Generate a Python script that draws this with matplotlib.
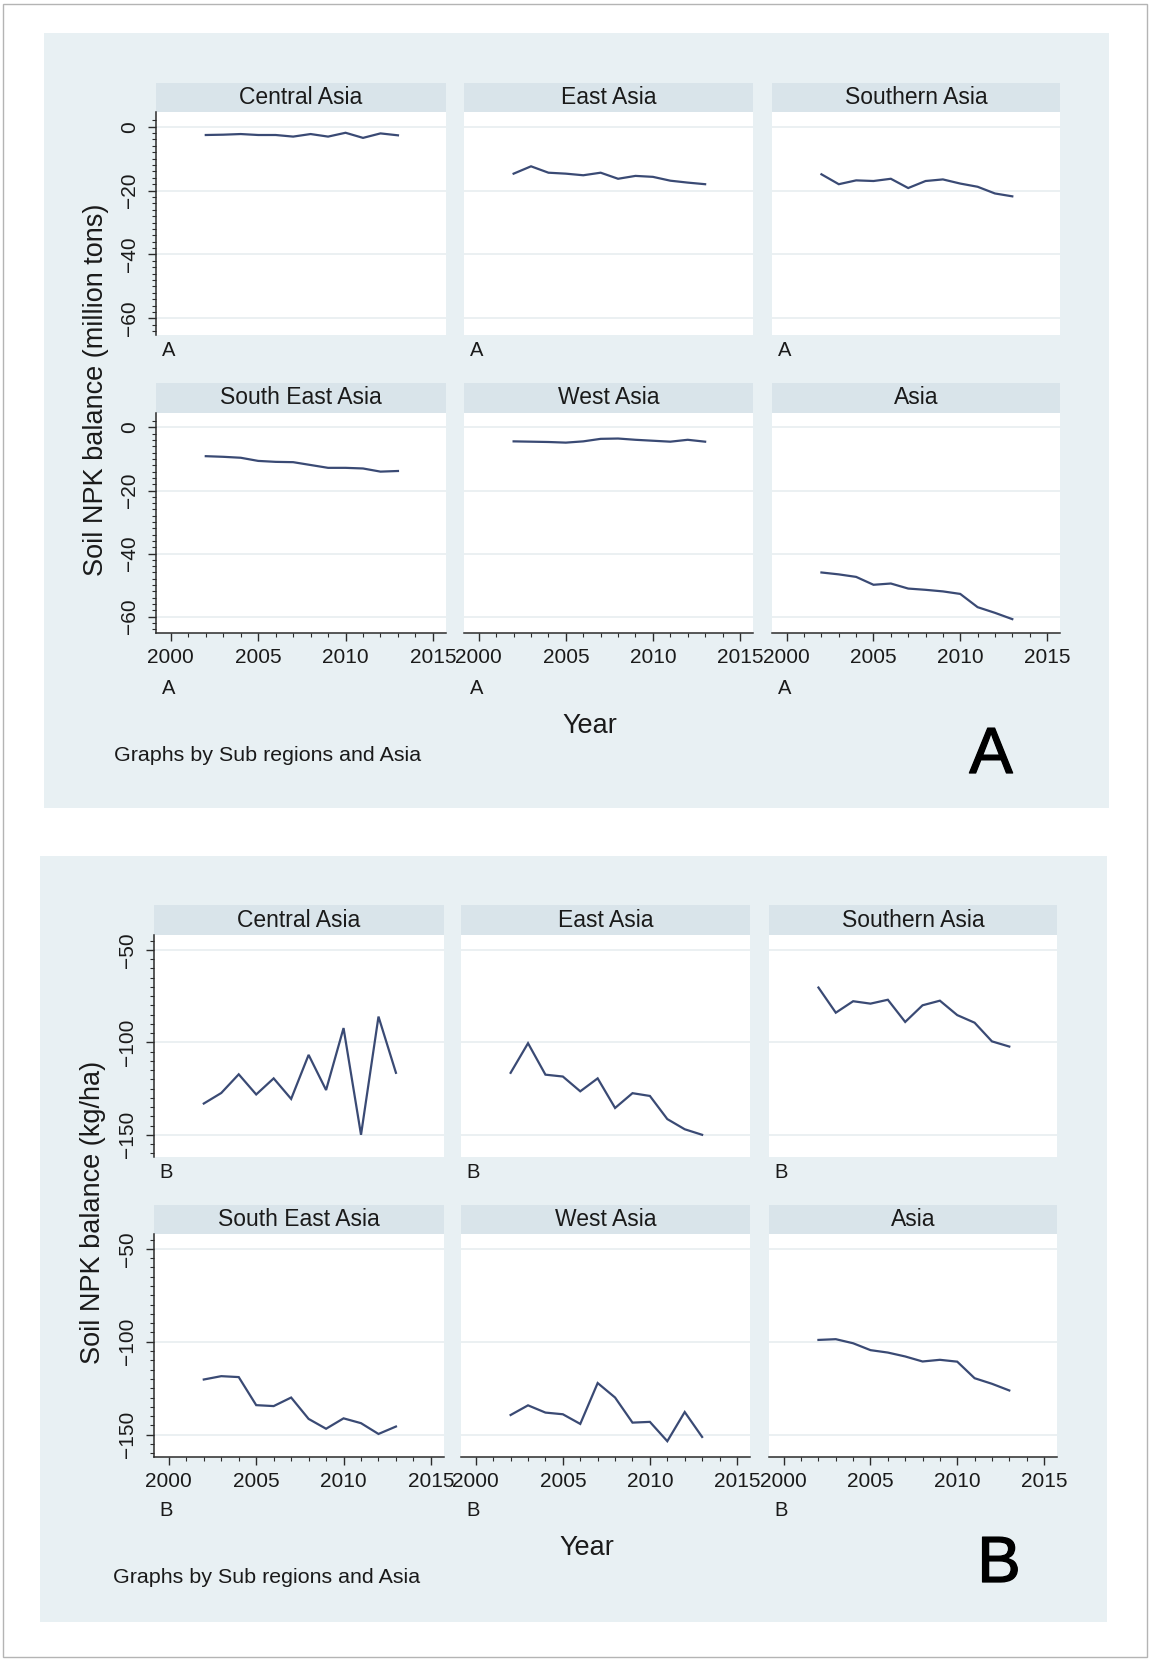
import matplotlib
matplotlib.use("Agg")
import matplotlib.pyplot as plt
import matplotlib.transforms as mtransforms
from matplotlib.patches import Rectangle
import matplotlib.patheffects as pe

# ---------------------------------------------------------------------------
# Data
# ---------------------------------------------------------------------------
years = [2002, 2003, 2004, 2005, 2006, 2007, 2008, 2009, 2010, 2011, 2012, 2013]

panel_titles = ["Central Asia", "East Asia", "Southern Asia",
                "South East Asia", "West Asia", "Asia"]

# Panel A: soil NPK balance, million tons
a_central_asia = [-2.6, -2.5, -2.3, -2.6, -2.6, -3.1, -2.3, -3.1, -1.9, -3.5, -2.1, -2.7]
a_east_asia = [-14.7, -12.4, -14.4, -14.7, -15.2, -14.4, -16.3, -15.4, -15.7, -16.9, -17.5, -18.0]
a_southern_asia = [-14.9, -18.0, -16.8, -17.0, -16.3, -19.2, -17.0, -16.5, -17.8, -18.8, -20.9, -21.8]
a_south_east_asia = [-9.1, -9.3, -9.6, -10.6, -10.9, -11.0, -11.9, -12.8, -12.8, -13.0, -14.0, -13.8]
a_west_asia = [-4.4, -4.5, -4.6, -4.8, -4.4, -3.6, -3.5, -3.9, -4.2, -4.5, -3.9, -4.5]
a_asia = [-46.0, -46.6, -47.4, -49.9, -49.5, -51.1, -51.5, -52.0, -52.8, -57.0, -58.8, -60.8]

# Panel B: soil NPK balance, kg/ha
b_central_asia = [-133.1, -127.4, -117.3, -128.2, -119.5, -130.6, -106.8, -125.8, -92.3, -150.0, -86.1, -116.5]
b_east_asia = [-116.5, -100.5, -117.5, -118.5, -126.5, -119.5, -135.5, -127.5, -129.0, -141.5, -147.0, -150.0]
b_southern_asia = [-70.4, -84.0, -77.8, -79.1, -77.0, -89.0, -80.0, -77.5, -85.3, -89.4, -99.5, -102.3]
b_south_east_asia = [-120.3, -118.5, -119.0, -134.1, -134.6, -130.0, -141.5, -146.8, -141.2, -143.8, -149.6, -145.6]
b_west_asia = [-139.4, -134.2, -138.1, -139.0, -144.2, -122.2, -130.0, -143.5, -143.1, -153.5, -137.8, -151.2]
b_asia = [-99.0, -98.6, -100.8, -104.5, -105.8, -107.9, -110.6, -109.7, -110.7, -119.6, -122.6, -126.2]

x_ticks = [2000, 2005, 2010, 2015]
x_minor = list(range(2000, 2016))
a_y_ticks = [0, -20, -40, -60]
a_y_minor = list(range(-64, 4, 2))
b_y_ticks = [-50, -100, -150]
b_y_minor = list(range(-160, -40, 5))

# ---------------------------------------------------------------------------
# Styling
# ---------------------------------------------------------------------------
W, H = 1151, 1660
FONT = ["Liberation Sans", "DejaVu Sans"]
plt.rcParams["font.family"] = FONT

BG = "#e8f0f3"
STRIP = "#d9e4ea"
GRID = "#e9eff1"
LINE = "#3a4a74"
AXIS = "#2b2b2b"
TEXT = "#1a1a1a"

fig = plt.figure(figsize=(W / 100, H / 100), dpi=100)
fig.patch.set_facecolor("white")

# thin outer frame
fig.patches.append(Rectangle((3 / W, 3 / H), (W - 7) / W, (H - 7) / H,
                             transform=fig.transFigure, fill=False,
                             edgecolor="#b4b4b4", lw=1.0, zorder=-20))


def px_axes(x0, y0, x1, y1):
    return fig.add_axes([x0 / W, 1 - y1 / H, (x1 - x0) / W, (y1 - y0) / H])


def fig_text(x, y, s, **kw):
    return fig.text(x / W, 1 - y / H, s, **kw)


def draw_block(series, letter, bg, cols, rows, ylim, yticks, yminor,
               caption_y, ylabel, ylabel_xy, year_xy, note_xy, big_xy):
    x0, y0, x1, y1 = bg
    fig.patches.append(Rectangle((x0 / W, 1 - y1 / H), (x1 - x0) / W, (y1 - y0) / H,
                                 transform=fig.transFigure, facecolor=BG,
                                 edgecolor="none", zorder=-10))
    xlim = (1999.15, 2015.75)
    for i, (vals, title) in enumerate(zip(series, panel_titles)):
        r, c = divmod(i, 3)
        cx0, cx1 = cols[c]
        htop, ptop, pbot = rows[r]

        # title strip
        hax = px_axes(cx0, htop, cx1, ptop)
        hax.set_facecolor(STRIP)
        hax.set_xticks([])
        hax.set_yticks([])
        for s in hax.spines.values():
            s.set_visible(False)
        hax.text(0.5, 0.5, title, ha="center", va="center", fontsize=16.5,
                 color=TEXT, transform=hax.transAxes)

        # plot region
        ax = px_axes(cx0, ptop, cx1, pbot)
        ax.set_facecolor("white")
        ax.plot(years, vals, color=LINE, lw=1.6, solid_joinstyle="miter")
        ax.set_xlim(*xlim)
        ax.set_ylim(*ylim)
        ax.set_yticks(yticks)
        ax.set_yticks(yminor, minor=True)
        ax.set_xticks(x_ticks)
        ax.set_xticks(x_minor, minor=True)
        ax.grid(axis="y", which="major", color=GRID, lw=1.3)
        ax.set_axisbelow(True)
        for side in ("top", "right"):
            ax.spines[side].set_visible(False)
        ax.spines["left"].set_visible(c == 0)
        ax.spines["bottom"].set_visible(r == 1)
        for side in ("left", "bottom"):
            ax.spines[side].set_color(AXIS)
            ax.spines[side].set_linewidth(1.1)

        ax.tick_params(axis="y", which="major", length=6, width=1.0, color=AXIS,
                       labelsize=15, labelcolor=TEXT, pad=6,
                       left=(c == 0), labelleft=(c == 0))
        ax.tick_params(axis="y", which="minor", length=3, width=0.8, color=AXIS,
                       left=(c == 0))
        for lab in ax.get_yticklabels():
            lab.set_rotation(90)
            lab.set_va("center")
        ax.tick_params(axis="x", which="major", length=6, width=1.0, color=AXIS,
                       labelsize=15, labelcolor=TEXT, pad=5,
                       bottom=(r == 1), labelbottom=(r == 1))
        ax.tick_params(axis="x", which="minor", length=3, width=0.8, color=AXIS,
                       bottom=(r == 1))

        # per-panel caption letter under the 2000 position
        tr = mtransforms.blended_transform_factory(ax.transData, fig.transFigure)
        cy = caption_y[r]
        ax.text(1999.85, 1 - cy / H, letter, transform=tr, ha="center",
                va="center", fontsize=14.5, color=TEXT, clip_on=False)

    fig_text(ylabel_xy[0], ylabel_xy[1], ylabel, rotation=90, ha="center",
             va="center", fontsize=19.5, color=TEXT)
    fig_text(year_xy[0], year_xy[1], "Year", ha="center", va="center",
             fontsize=19.5, color=TEXT)
    fig_text(note_xy[0], note_xy[1], "Graphs by Sub regions and Asia",
             ha="left", va="center", fontsize=15.4, color=TEXT)
    big = fig_text(big_xy[0], big_xy[1], letter, ha="center", va="center",
                   fontsize=47, color="black")
    # slightly heavier stroke for the block letter
    big.set_path_effects([pe.withStroke(linewidth=0.9, foreground="black")])


draw_block(
    [a_central_asia, a_east_asia, a_southern_asia,
     a_south_east_asia, a_west_asia, a_asia],
    "A",
    bg=(44, 33, 1109, 808),
    cols=[(156, 446), (464, 753), (772, 1060)],
    rows=[(83, 112, 335), (383, 413, 633)],
    ylim=(-65.2, 4.6), yticks=a_y_ticks, yminor=a_y_minor,
    caption_y=(350, 688),
    ylabel="Soil NPK balance (million tons)", ylabel_xy=(96, 390),
    year_xy=(590, 726), note_xy=(114, 755), big_xy=(991, 756),
)

draw_block(
    [b_central_asia, b_east_asia, b_southern_asia,
     b_south_east_asia, b_west_asia, b_asia],
    "B",
    bg=(40, 856, 1107, 1622),
    cols=[(154, 444), (461, 750), (769, 1057)],
    rows=[(905, 935, 1157), (1205, 1234, 1457)],
    ylim=(-162, -42), yticks=b_y_ticks, yminor=b_y_minor,
    caption_y=(1172, 1510),
    ylabel="Soil NPK balance (kg/ha)", ylabel_xy=(93, 1212),
    year_xy=(587, 1548), note_xy=(113, 1577), big_xy=(999, 1565),
)

fig.savefig("out.png", dpi=100, facecolor="white")
